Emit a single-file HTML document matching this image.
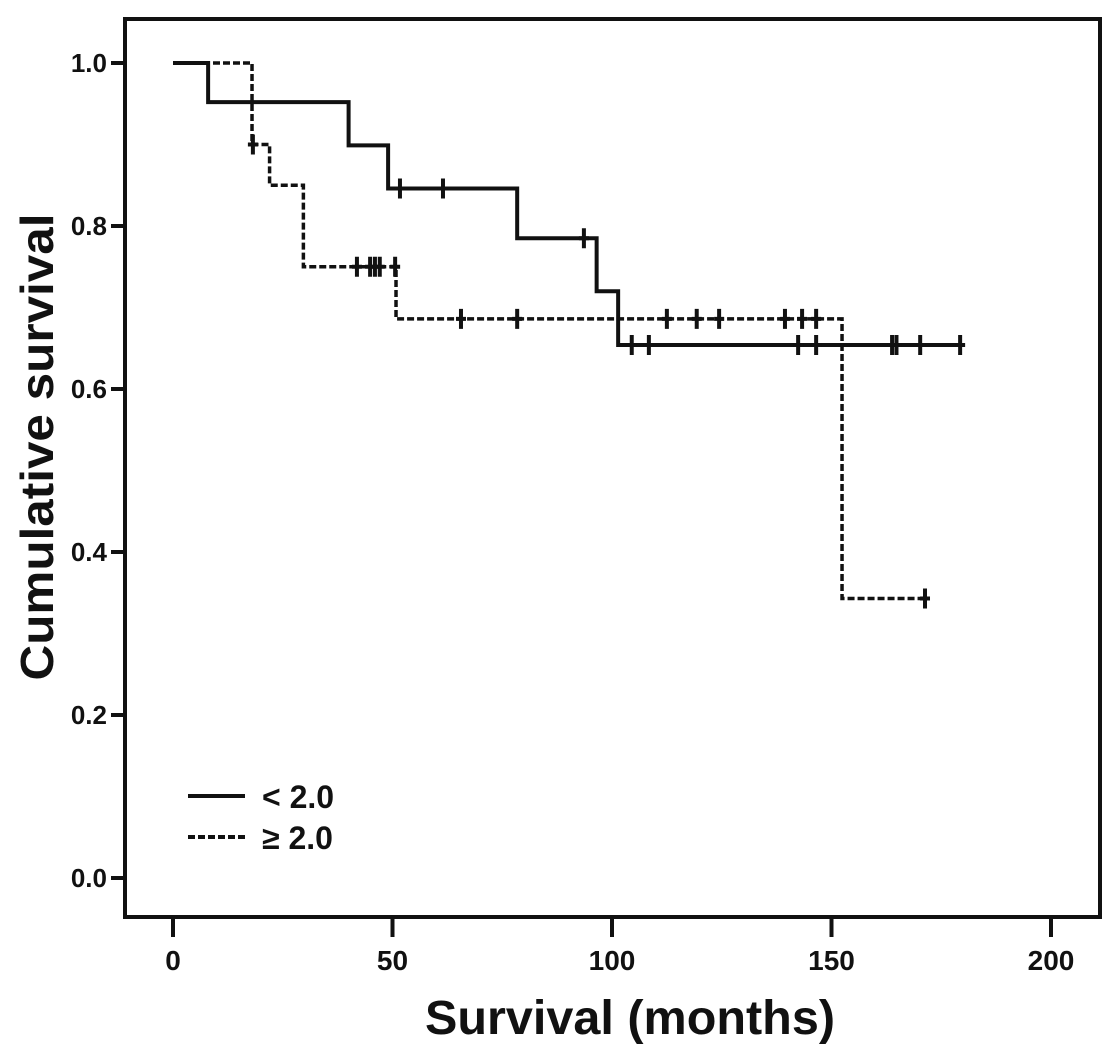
<!DOCTYPE html>
<html><head><meta charset="utf-8"><style>
body{margin:0;background:#fff}
svg text{font-family:"Liberation Sans",sans-serif;font-weight:bold;fill:#111}
</style></head><body>
<svg id="chart" width="1115" height="1056" xmlns="http://www.w3.org/2000/svg">
<rect x="125" y="19" width="975" height="898" fill="#fff" stroke="#111" stroke-width="4"/>
<g id="axes"></g>
<g id="series"></g>
<text transform="translate(53,447) rotate(-90)" text-anchor="middle" font-size="46" textLength="467" lengthAdjust="spacingAndGlyphs">Cumulative survival</text>
<text x="630" y="1034" text-anchor="middle" font-size="48" textLength="410" lengthAdjust="spacingAndGlyphs">Survival (months)</text>
<g>
<line x1="188" y1="796" x2="245" y2="796" stroke="#111" stroke-width="4"/>
<text x="262" y="808" font-size="32">&lt; 2.0</text>
<line x1="188" y1="837" x2="245" y2="837" stroke="#111" stroke-width="4" stroke-dasharray="7,3"/>
<text x="262" y="849" font-size="32">≥ 2.0</text>
</g>
</svg>
<script>
const xTicks=[0,50,100,150,200];
const yTicks=[0.0,0.2,0.4,0.6,0.8,1.0];
const yTickLabels=["0.0","0.2","0.4","0.6","0.8","1.0"];
const lowSteps=[[0,1.0],[8,0.952],[40,0.899],[49,0.846],[78.4,0.785],[96.5,0.72],[101.4,0.654]];
const lowEnd=179.3;
const lowCensor=[51.7,61.5,93.6,104.5,108.4,142.4,146.5,163.8,164.8,170.2,179.3];
const highSteps=[[0,1.0],[18,0.9],[22,0.85],[29.7,0.75],[50.8,0.686],[152.4,0.343]];
const highEnd=171.3;
const highCensor=[18.2,41.9,44.9,46,47.1,50.6,65.6,78.4,112.5,119.3,124.4,139.4,143.3,146.5,171.3];
const NS="http://www.w3.org/2000/svg";
function X(t){return 173+t*4.39;}
function Y(v){return 878-v*815;}
function mk(tag,attrs,parent){const e=document.createElementNS(NS,tag);for(const k in attrs)e.setAttribute(k,attrs[k]);parent.appendChild(e);return e;}
const axes=document.getElementById('axes');
xTicks.forEach(t=>{
 const l=mk('line',{x1:X(t),x2:X(t),y1:917,y2:937,stroke:'#111','stroke-width':4},axes);
 
 
 const tx=mk('text',{x:X(t),y:970,'text-anchor':'middle','font-size':28},axes);
 
 
 tx.textContent=t;
});
yTicks.forEach((v,i)=>{
 const l=mk('line',{x1:111,x2:125,y1:Y(v),y2:Y(v),stroke:'#111','stroke-width':4},axes);
 
 
 const tx=mk('text',{x:107,y:Y(v)+9,'text-anchor':'end','font-size':26},axes);
 
 
 tx.textContent=yTickLabels[i];
});
function stepVal(steps,t){let v=steps[0][1];for(const s of steps){if(t>=s[0])v=s[1];}return v;}
function drawSeries(steps,end,censor,dash,name){
 const g=document.getElementById('series');
 let d='M'+X(steps[0][0])+','+Y(steps[0][1]);
 for(let i=1;i<steps.length;i++){d+=' H'+X(steps[i][0])+' V'+Y(steps[i][1]);}
 d+=' H'+X(end);
 const p=mk('path',{d:d,fill:'none',stroke:'#111','stroke-width':dash?3.5:4,'stroke-dasharray':dash?'7,3':'none'},g);
 
 
 censor.forEach(t=>{
  const y=Y(stepVal(steps,t));
  const c=mk('path',{d:'M'+X(t)+','+(y-10)+' V'+(y+10)+' M'+(X(t)-5)+','+y+' H'+(X(t)+5),stroke:'#111','stroke-width':4,fill:'none'},g);
  
  
 });
}
drawSeries(lowSteps,lowEnd,lowCensor,false,'low-group');
drawSeries(highSteps,highEnd,highCensor,true,'high-group');
</script>
</body></html>
